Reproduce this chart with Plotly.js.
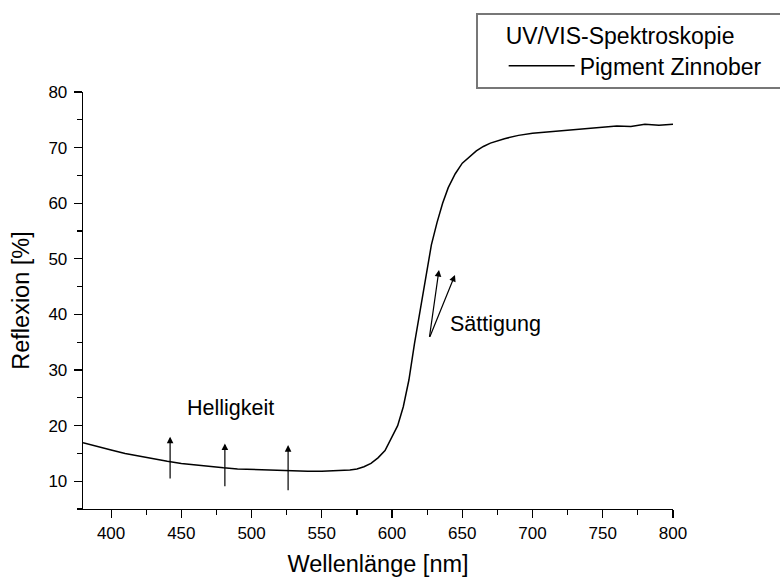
<!DOCTYPE html>
<html>
<head>
<meta charset="utf-8">
<script src="https://cdn.plot.ly/plotly-3.0.1.min.js"></script>
<style>
  html, body { margin: 0; padding: 0; background: #fff; }
  #chart { width: 780px; height: 577px; }
</style>
</head>
<body>
<div id="chart"></div>
<script>
// Wavelength [nm]
const wavelength = [380, 390, 400, 410, 420, 430, 440, 450, 460, 470, 480, 490, 500, 510, 520, 530, 540, 550, 560, 570, 575, 580, 585, 590, 595, 600, 604, 608, 612, 616, 620, 624, 628, 632, 636, 640, 645, 650, 655, 660, 665, 670, 680, 690, 700, 710, 720, 730, 740, 750, 760, 770, 780, 790, 800];
// Reflexion [%]
const reflexion = [16.9, 16.2, 15.6, 15.0, 14.5, 14.0, 13.6, 13.2, 12.9, 12.6, 12.4, 12.2, 12.1, 12.0, 11.9, 11.85, 11.8, 11.8, 11.85, 12.0, 12.2, 12.6, 13.2, 14.2, 15.5, 18.0, 20.0, 23.4, 28.2, 34.8, 40.7, 46.3, 52.5, 56.5, 60.0, 62.8, 65.3, 67.2, 68.3, 69.4, 70.2, 70.8, 71.6, 72.2, 72.6, 72.8, 73.0, 73.3, 73.5, 73.6, 73.9, 73.8, 74.2, 74.0, 74.2];

const seriesName = "Pigment Zinnober";
const legendTitle = "UV/VIS-Spektroskopie";

// Helligkeit arrows: [x, tailY, headY]
const hellArrowX = [442, 481, 526];
const hellArrowTail = [10.2, 8.8, 8.1];
const hellArrowHead = [18.0, 16.8, 16.5];
// Sättigung arrows: common tail, two heads
const saettTail = [626.5, 35.7];
const saettHeadX = [633.4, 644.8];
const saettHeadY = [48.0, 47.1];

const xTicks = [400, 450, 500, 550, 600, 650, 700, 750, 800];
const yTicks = [10, 20, 30, 40, 50, 60, 70, 80];

const FONT = "Liberation Sans, Arial, sans-serif";

const annotations = [];
for (let i = 0; i < hellArrowX.length; i++) {
  annotations.push({
    x: hellArrowX[i], y: hellArrowHead[i], xref: 'x', yref: 'y',
    ax: hellArrowX[i], ay: hellArrowTail[i], axref: 'x', ayref: 'y',
    text: '', showarrow: true, arrowhead: 2, arrowsize: 1.1, arrowwidth: 1.2,
    arrowcolor: '#000', standoff: 0, startstandoff: 0
  });
}
for (let i = 0; i < saettHeadX.length; i++) {
  annotations.push({
    x: saettHeadX[i], y: saettHeadY[i], xref: 'x', yref: 'y',
    ax: saettTail[0], ay: saettTail[1], axref: 'x', ayref: 'y',
    text: '', showarrow: true, arrowhead: 2, arrowsize: 1.1, arrowwidth: 1.2,
    arrowcolor: '#000', standoff: 0, startstandoff: 0
  });
}
annotations.push({
  x: 485, y: 23.2, xref: 'x', yref: 'y', text: 'Helligkeit', showarrow: false,
  font: {family: FONT, size: 21.5, color: '#000'}
});
annotations.push({
  x: 673.5, y: 38.2, xref: 'x', yref: 'y', text: 'Sättigung', showarrow: false,
  font: {family: FONT, size: 21.5, color: '#000'}
});

const trace = {
  x: wavelength, y: reflexion, type: 'scatter', mode: 'lines',
  name: seriesName, line: {color: '#000', width: 1.5}
};

const layout = {
  width: 780, height: 577,
  margin: {l: 83, r: 107, t: 92, b: 68},
  paper_bgcolor: '#fff', plot_bgcolor: '#fff',
  font: {family: FONT, color: '#000'},
  showlegend: true,
  legend: {
    x: 0.713, y: 1.186, xanchor: 'left', yanchor: 'top',
    bgcolor: 'rgba(0,0,0,0)', borderwidth: 0,
    font: {family: FONT, size: 23, color: '#000'},
    title: {text: legendTitle, side: 'top', font: {family: FONT, size: 23, color: '#000'}},
    itemwidth: 66
  },
  xaxis: {
    range: [380, 800], tickvals: xTicks, ticktext: xTicks.map(String),
    ticks: 'outside', ticklen: 8, tickwidth: 1.2, tickcolor: '#000',
    showline: true, linecolor: '#000', linewidth: 1.3, showgrid: false, zeroline: false,
    tickfont: {family: FONT, size: 17, color: '#000'},
    minor: {dtick: 25, tick0: 0, ticks: 'outside', ticklen: 5, tickwidth: 1.2, tickcolor: '#000', showgrid: false},
    title: {text: 'Wellenlänge [nm]', font: {family: FONT, size: 23.5, color: '#000'}, standoff: 16},
    fixedrange: true
  },
  yaxis: {
    range: [5, 80], tickvals: yTicks, ticktext: yTicks.map(String),
    ticks: 'outside', ticklen: 8, tickwidth: 1.2, tickcolor: '#000',
    showline: true, linecolor: '#000', linewidth: 1.3, showgrid: false, zeroline: false,
    tickfont: {family: FONT, size: 17, color: '#000'},
    ticklabelstandoff: 3,
    minor: {dtick: 5, tick0: 0, ticks: 'outside', ticklen: 5, tickwidth: 1.2, tickcolor: '#000', showgrid: false},
    title: {text: 'Reflexion [%]', font: {family: FONT, size: 23.5, color: '#000'}, standoff: 12},
    fixedrange: true
  },
  shapes: [{
    type: 'rect', xref: 'paper', yref: 'paper',
    x0: (477 - 83) / 590, x1: (795 - 83) / 590,
    y0: (509 - 88) / 417, y1: (509 - 14) / 417,
    line: {color: '#777', width: 2}, fillcolor: 'rgba(0,0,0,0)'
  }],
  annotations: annotations
};

Plotly.newPlot('chart', [trace], layout, {displayModeBar: false, staticPlot: true});
</script>
</body>
</html>
